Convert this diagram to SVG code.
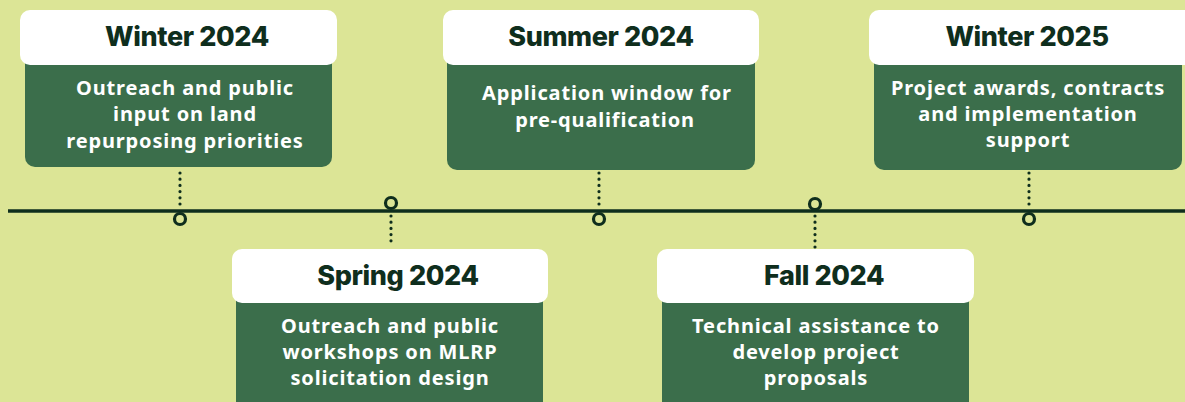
<svg xmlns="http://www.w3.org/2000/svg" width="1185" height="402" viewBox="0 0 1185 402">
<style>
.bg{fill:#dce596}
.head{fill:#ffffff}
.body{fill:#3b6e4b}
.title{font-family:"Inter","Noto Sans",sans-serif;font-weight:800;font-size:27px;fill:#0f2e1d;text-anchor:middle;letter-spacing:-0.4px}
.desc{font-family:"Noto Sans","Inter",sans-serif;font-weight:700;font-size:20px;fill:#ffffff;text-anchor:middle;letter-spacing:0.85px}
.axis{stroke:#0f2e1d;stroke-width:3.5;fill:none}
.dots{stroke:#0f2e1d;stroke-width:3.2;stroke-linecap:round;stroke-dasharray:0 6.2;fill:none}
.pin{fill:#dce596;stroke:#0f2e1d;stroke-width:3.2}
</style>
<rect class="bg" x="0" y="0" width="1185" height="402"/>
<g id="connectors">
<line class="axis" x1="8" y1="211" x2="1185" y2="211"/>
<line class="dots" x1="180" y1="173" x2="180" y2="205"/>
<line class="dots" x1="391" y1="216" x2="391" y2="243"/>
<line class="dots" x1="599" y1="173" x2="599" y2="205"/>
<line class="dots" x1="815" y1="216" x2="815" y2="247"/>
<line class="dots" x1="1029" y1="173" x2="1029" y2="205"/>
<circle class="pin" cx="180" cy="219" r="5.5"/>
<circle class="pin" cx="391" cy="203" r="5.5"/>
<circle class="pin" cx="599" cy="219" r="5.5"/>
<circle class="pin" cx="815" cy="204" r="5.5"/>
<circle class="pin" cx="1029" cy="219" r="5.5"/>
</g>
<g id="winter2024">
<rect class="body" x="25" y="52" width="307" height="115" rx="10"/>
<rect class="head" x="20" y="10" width="317" height="55" rx="10"/>
<text class="title" x="187" y="46">Winter 2024</text>
<text class="desc" x="185" y="95">Outreach and public</text>
<text class="desc" x="185" y="121">input on land</text>
<text class="desc" x="185" y="148">repurposing priorities</text>
</g>
<g id="summer2024">
<rect class="body" x="447" y="52" width="308" height="118" rx="10"/>
<rect class="head" x="443" y="10" width="316" height="55" rx="10"/>
<text class="title" x="601" y="46">Summer 2024</text>
<text class="desc" x="607" y="100">Application window for</text>
<text class="desc" x="605" y="127">pre-qualification</text>
</g>
<g id="winter2025">
<rect class="body" x="874" y="52" width="308" height="118" rx="10"/>
<rect class="head" x="869" y="10" width="326" height="55" rx="10"/>
<text class="title" x="1027" y="46">Winter 2025</text>
<text class="desc" x="1028" y="95">Project awards, contracts</text>
<text class="desc" x="1028" y="121">and implementation</text>
<text class="desc" x="1028" y="147">support</text>
</g>
<g id="spring2024">
<rect class="body" x="236" y="290" width="307" height="122" rx="10"/>
<rect class="head" x="232" y="249" width="316" height="54" rx="10"/>
<text class="title" x="398" y="285">Spring 2024</text>
<text class="desc" x="390" y="333">Outreach and public</text>
<text class="desc" x="390" y="359">workshops on MLRP</text>
<text class="desc" x="390" y="385">solicitation design</text>
</g>
<g id="fall2024">
<rect class="body" x="662" y="290" width="307" height="122" rx="10"/>
<rect class="head" x="657" y="249" width="317" height="54" rx="10"/>
<text class="title" x="824" y="285">Fall 2024</text>
<text class="desc" x="816" y="333">Technical assistance to</text>
<text class="desc" x="816" y="359">develop project</text>
<text class="desc" x="816" y="385">proposals</text>
</g>
</svg>
